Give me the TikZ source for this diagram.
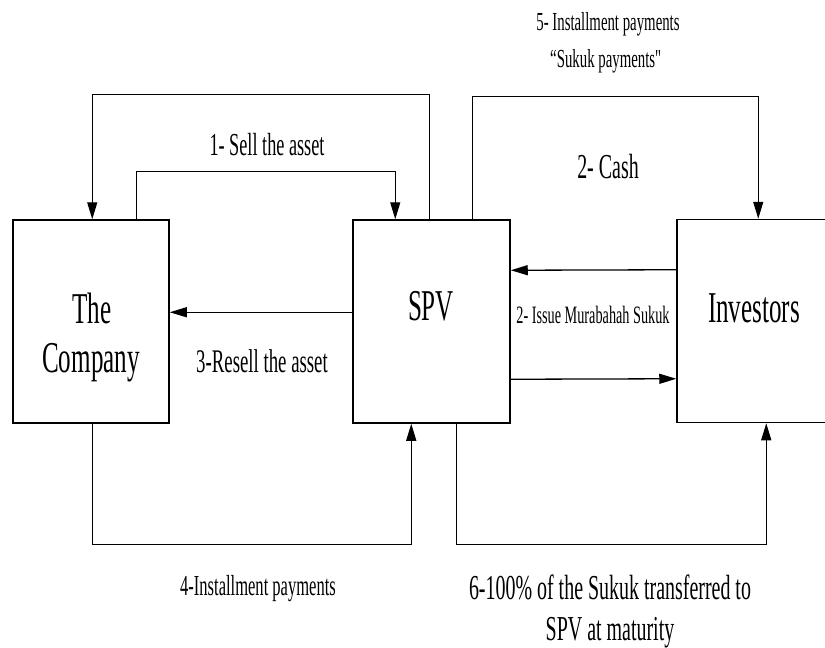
\documentclass[tikz,border=0pt]{standalone}
\usepackage{fontspec}
\setmainfont{Liberation Serif}[FakeStretch=0.57]
\usetikzlibrary{arrows.meta}
\begin{document}
\begin{tikzpicture}[x=1pt,y=-1pt,
  box/.style={draw,line width=1.5pt,rectangle,inner sep=0pt,minimum height=203pt},
  arr/.style={line width=1.3pt,-{Triangle[length=17pt,width=10pt]}},
  lbl/.style={inner sep=0pt,align=center}]
\useasboundingbox (0,0) rectangle (825,648);
\node[box,minimum width=156pt] (Company) at (91,321.5) {};
\node[box,minimum width=157pt] (SPV) at (431.5,321.5) {};
\node[box,minimum width=160pt] (Investors) at (757,321) {};
% box texts
\node[lbl,font=\fontsize{44}{50}\selectfont] (tThe) at (92,308) {The};
\node[lbl,font=\fontsize{44}{50}\selectfont] (tCo) at (91,363) {Company};
\node[lbl,font=\fontsize{44}{50}\selectfont] (tSPV) at (431,306) {SPV};
\node[lbl,font=\fontsize{44}{50}\selectfont] (tInv) at (754,308) {Investors};
% connectors
\draw[arr] ([xshift=77pt]SPV.north west) -- ++(0,-125) -| ([xshift=80pt]Company.north west);
\draw[arr] ([xshift=124pt]Company.north west) -- ++(0,-48) -| ([xshift=43pt]SPV.north west);
\draw[arr] ([xshift=120pt]SPV.north west) -- ++(0,-123) -| ([xshift=82pt]Investors.north west);
\draw[arr] ([xshift=80pt]Company.south west) -- ++(0,121) -| ([xshift=59pt]SPV.south west);
\draw[arr] ([xshift=104pt]SPV.south west) -- ++(0,121) -| ([xshift=90pt]Investors.south west);
\draw[arr] ([yshift=-51pt]Investors.north west) -- ([yshift=-51pt]SPV.north east);
\draw[arr] ([yshift=-160pt]SPV.north east) -- ([yshift=-160pt]Investors.north west);
\draw[arr] ([yshift=-93pt]SPV.north west) -- ([yshift=-93pt]Company.north east);
% labels
\node[lbl,font=\fontsize{32}{36}\selectfont] (l1) at (267,145) {1- Sell the asset};
\node[lbl,font=\fontsize{35}{40}\selectfont] (l2) at (608,167) {2- Cash};
\node[lbl,font=\fontsize{26}{37}\selectfont] (l5) at (608,43) {5- Installment payments\\``Sukuk payments\textquotedbl};
\node[lbl,font=\fontsize{25}{30}\selectfont] (l2b) at (593,315) {2- Issue Murabahah Sukuk};
\node[lbl,font=\fontsize{33}{38}\selectfont] (l3) at (262,361) {3-Resell the asset};
\node[lbl,font=\fontsize{29}{34}\selectfont] (l4) at (258,589) {4-Installment payments};
\node[lbl,font=\fontsize{35}{41}\selectfont] (l6) at (610,611) {6-100\% of the Sukuk transferred to\\SPV at maturity};
\end{tikzpicture}
\end{document}
